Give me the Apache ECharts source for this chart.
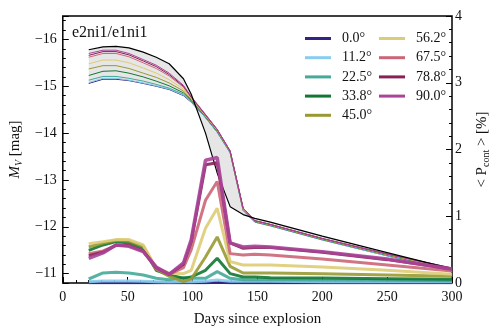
<!DOCTYPE html>
<html>
<head>
<meta charset="utf-8">
<script src="https://cdn.jsdelivr.net/npm/echarts@6/dist/echarts.min.js"></script>
<style>
  html, body { margin: 0; padding: 0; background: #fff; }
  #chart { width: 501px; height: 334px; }
</style>
</head>
<body>
<div id="chart"></div>
<script>
// epochs (days since explosion)
const days = [20, 31, 41, 51, 62, 72, 82, 93, 99, 110, 119, 129, 139, 148, 160, 200, 250, 300];

// reference light curve (black)
const magRef = [-15.78, -15.84, -15.85, -15.82, -15.73, -15.62, -15.48, -15.16, -14.83, -14.0, -13.15, -12.43, -12.26, -12.18, -12.1, -11.8, -11.45, -11.1];

// V-band light curves per viewing angle
const mag00 = [-15.06, -15.15, -15.15, -15.12, -15.06, -15.0, -14.93, -14.8, -14.66, -14.33, -14.02, -13.58, -12.35, -12.1, -12.02, -11.72, -11.38, -11.05];
const mag11 = [-15.08, -15.17, -15.17, -15.13, -15.07, -15.01, -14.94, -14.81, -14.67, -14.33, -14.02, -13.58, -12.36, -12.1, -12.02, -11.72, -11.38, -11.05];
const mag22 = [-15.13, -15.21, -15.21, -15.17, -15.11, -15.04, -14.96, -14.83, -14.68, -14.34, -14.03, -13.59, -12.37, -12.11, -12.03, -11.73, -11.39, -11.07];
const mag33 = [-15.23, -15.32, -15.33, -15.28, -15.2, -15.11, -15.01, -14.86, -14.7, -14.35, -14.04, -13.6, -12.38, -12.11, -12.03, -11.73, -11.4, -11.08];
const mag45 = [-15.37, -15.44, -15.44, -15.38, -15.28, -15.19, -15.07, -14.9, -14.72, -14.36, -14.05, -13.6, -12.38, -12.12, -12.04, -11.74, -11.4, -11.09];
const mag56 = [-15.48, -15.56, -15.56, -15.5, -15.39, -15.28, -15.14, -14.94, -14.74, -14.37, -14.06, -13.61, -12.39, -12.12, -12.04, -11.74, -11.41, -11.1];
const mag67 = [-15.62, -15.7, -15.7, -15.63, -15.5, -15.38, -15.22, -14.98, -14.76, -14.38, -14.07, -13.61, -12.39, -12.13, -12.05, -11.75, -11.41, -11.11];
const mag78 = [-15.66, -15.74, -15.74, -15.67, -15.54, -15.42, -15.25, -15.0, -14.77, -14.39, -14.08, -13.62, -12.4, -12.13, -12.05, -11.75, -11.42, -11.12];
const mag90 = [-15.7, -15.77, -15.77, -15.7, -15.57, -15.45, -15.28, -15.02, -14.78, -14.4, -14.08, -13.62, -12.4, -12.13, -12.05, -11.75, -11.42, -11.12];

// continuum polarization (%) per viewing angle
const pol00 = [0.005, 0.005, 0.005, 0.005, 0.005, 0.005, 0.005, 0.005, 0.005, 0.005, 0.01, 0.005, 0.005, 0.005, 0.005, 0.005, 0.005, 0.005];
const pol11 = [0.02, 0.03, 0.03, 0.03, 0.025, 0.02, 0.015, 0.02, 0.02, 0.025, 0.045, 0.025, 0.025, 0.025, 0.025, 0.02, 0.02, 0.02];
const pol22 = [0.06, 0.15, 0.16, 0.15, 0.12, 0.07, 0.05, 0.08, 0.07, 0.07, 0.17, 0.07, 0.05, 0.05, 0.05, 0.045, 0.04, 0.035];
const pol33 = [0.49, 0.57, 0.62, 0.6, 0.52, 0.19, 0.12, 0.07, 0.09, 0.19, 0.37, 0.14, 0.09, 0.09, 0.08, 0.075, 0.065, 0.055];
const pol45 = [0.54, 0.6, 0.64, 0.63, 0.55, 0.21, 0.1, 0.02, 0.06, 0.39, 0.69, 0.25, 0.15, 0.15, 0.15, 0.14, 0.12, 0.1];
const pol56 = [0.59, 0.62, 0.65, 0.65, 0.57, 0.22, 0.15, 0.14, 0.19, 0.82, 1.12, 0.32, 0.27, 0.27, 0.27, 0.24, 0.19, 0.13];
const pol67 = [0.44, 0.48, 0.56, 0.56, 0.48, 0.21, 0.13, 0.23, 0.5, 1.24, 1.52, 0.44, 0.42, 0.43, 0.42, 0.36, 0.27, 0.18];
const pol78 = [0.41, 0.46, 0.57, 0.56, 0.48, 0.23, 0.13, 0.28, 0.62, 1.77, 1.8, 0.6, 0.52, 0.53, 0.53, 0.46, 0.35, 0.21];
const pol90 = [0.37, 0.45, 0.57, 0.55, 0.47, 0.24, 0.13, 0.3, 0.65, 1.84, 1.88, 0.6, 0.54, 0.55, 0.54, 0.47, 0.36, 0.21];

const angles = ['0.0°', '11.2°', '22.5°', '33.8°', '45.0°', '56.2°', '67.5°', '78.8°', '90.0°'];
const colors = ['#332288', '#88CCEE', '#44AA99', '#117733', '#999933', '#DDCC77', '#CC6677', '#882255', '#AA4499'];
const magList = [mag00, mag11, mag22, mag33, mag45, mag56, mag67, mag78, mag90];
const polList = [pol00, pol11, pol22, pol33, pol45, pol56, pol67, pol78, pol90];

const serif = 'Liberation Serif';
const pair = (arr) => days.map((d, i) => [d, arr[i]]);
const minus = (v) => String(v).replace('-', '\u2212');

const chart = echarts.init(document.getElementById('chart'));

// 偏振曲线 (粗线)
const polSeries = angles.map((name, k) => ({
  name,
  type: 'line',
  xAxisIndex: 0,
  yAxisIndex: 1,
  data: pair(polList[k]),
  showSymbol: false,
  itemStyle: {color: colors[k]},
  lineStyle: {color: colors[k], width: k === 8 ? 3.5 : 3, opacity: 0.9},
  z: 4 + k * 0.1,
}));

// 光变曲线 (细线)
const magSeries = angles.map((name, k) => ({
  name,
  type: 'line',
  xAxisIndex: 0,
  yAxisIndex: 0,
  data: pair(magList[k]),
  showSymbol: false,
  itemStyle: {color: colors[k]},
  lineStyle: {color: colors[k], width: 1},
  z: 3,
}));

// gray band between reference curve and the 0 deg curve
const bandSeries = {
  type: 'custom',
  xAxisIndex: 0,
  yAxisIndex: 0,
  data: [[days[0], magRef[0]]],
  silent: true,
  clip: true,
  z: 1,
  renderItem: function (params, api) {
    const pts = days.map((d, i) => api.coord([d, magRef[i]]));
    for (let i = days.length - 1; i >= 0; i--) pts.push(api.coord([days[i], mag00[i]]));
    return {type: 'polygon', shape: {points: pts}, style: {fill: '#e6e6e6', stroke: 'none'}};
  },
};

const refSeries = {
  type: 'line',
  xAxisIndex: 0,
  yAxisIndex: 0,
  data: pair(magRef),
  showSymbol: false,
  lineStyle: {color: '#000', width: 1.2},
  itemStyle: {color: '#000'},
  z: 3.5,
};

const legendBase = {
  orient: 'vertical',
  icon: 'rect',
  itemWidth: 26,
  itemHeight: 3,
  itemGap: 4.2,
  textStyle: {fontFamily: serif, fontSize: 14, color: '#111', lineHeight: 15, padding: [0, 0, 0, 6]},
};

chart.setOption({
  animation: false,
  textStyle: {fontFamily: serif},
  title: {
    text: 'e2ni1/e1ni1',
    left: 67, top: 20,
    textStyle: {fontFamily: serif, fontSize: 16, fontWeight: 'normal', color: '#111'},
  },
  legend: [
    Object.assign({}, legendBase, {data: angles.slice(0, 5), left: 300, top: 26}),
    Object.assign({}, legendBase, {data: angles.slice(5), left: 374, top: 26}),
  ],
  grid: {
    left: 61, right: 49, top: 16, bottom: 51,
    show: true, borderColor: '#000', borderWidth: 1.5, backgroundColor: 'transparent',
  },
  xAxis: {
    type: 'value',
    min: 0, max: 300, interval: 50,
    name: 'Days since explosion',
    nameLocation: 'middle',
    nameGap: 29,
    nameTextStyle: {fontFamily: serif, fontSize: 15, color: '#111'},
    axisLine: {show: false},
    axisTick: {inside: true, length: 6, lineStyle: {color: '#000', width: 1}},
    minorTick: {show: true, splitNumber: 5, length: 3, lineStyle: {color: '#000', width: 1}},
    axisLabel: {fontFamily: serif, fontSize: 14, color: '#111', margin: 7},
    splitLine: {show: false},
  },
  yAxis: [
    {
      type: 'value',
      inverse: true,
      min: -16.5, max: -10.8,
      splitNumber: 6,
      position: 'left',
      name: '{i|M}{s|V} [mag]',
      nameLocation: 'middle',
      nameGap: 31,
      nameRotate: 90,
      nameTextStyle: {
        fontFamily: serif, fontSize: 15, color: '#111',
        rich: {
          i: {fontFamily: serif, fontSize: 15, fontStyle: 'italic', color: '#111'},
          s: {fontFamily: serif, fontSize: 10, fontStyle: 'italic', color: '#111', padding: [7, 0, 0, 0]},
        },
      },
      axisLine: {show: false},
      axisTick: {inside: true, length: 6, lineStyle: {color: '#000', width: 1}},
      minorTick: {show: true, splitNumber: 5, length: 3, lineStyle: {color: '#000', width: 1}},
      axisLabel: {
        fontFamily: serif, fontSize: 14, color: '#111', margin: 6,
        showMinLabel: false, showMaxLabel: false,
        formatter: minus,
      },
      splitLine: {show: false},
    },
    {
      type: 'value',
      min: 0, max: 4, interval: 1,
      position: 'right',
      name: '< {i|P}{s|cont} > [%]',
      nameLocation: 'middle',
      nameGap: 22,
      nameRotate: 90,
      nameTextStyle: {
        fontFamily: serif, fontSize: 15, color: '#111',
        rich: {
          i: {fontFamily: serif, fontSize: 15, color: '#111'},
          s: {fontFamily: serif, fontSize: 10, color: '#111', padding: [7, 0, 0, 0]},
        },
      },
      axisLine: {show: false},
      axisTick: {inside: true, length: 6, lineStyle: {color: '#000', width: 1}},
      minorTick: {show: true, splitNumber: 5, length: 3, lineStyle: {color: '#000', width: 1}},
      axisLabel: {fontFamily: serif, fontSize: 14, color: '#111', margin: 3},
      splitLine: {show: false},
    },
  ],
  series: [bandSeries].concat(polSeries, magSeries, [refSeries]),
});
</script>
</body>
</html>
